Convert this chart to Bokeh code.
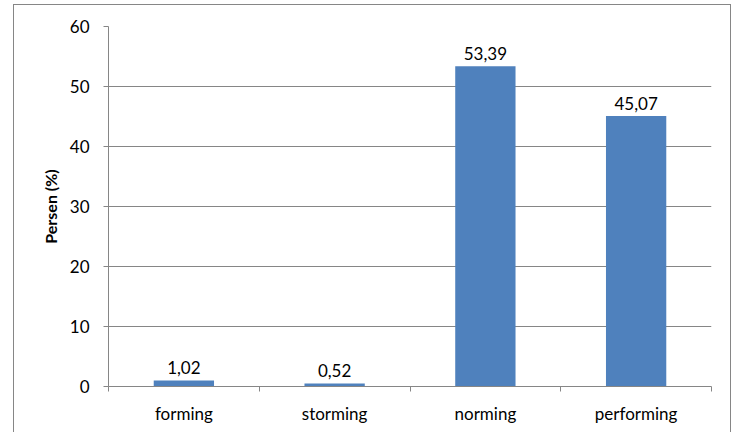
from bokeh.plotting import figure
from bokeh.models import ColumnDataSource, FixedTicker, Range1d
from bokeh.core.properties import value
from bokeh.embed import file_html
from bokeh.resources import INLINE

categories = ["forming", "storming", "norming", "performing"]
values = [1.02, 0.52, 53.39, 45.07]
y_ticks = [0, 10, 20, 30, 40, 50, 60]

FONT = "Lato"
GRAY = "#868686"
BLUE = "#4F81BD"

xs = [i + 0.5 for i in range(len(categories))]
labels = [f"{v:.2f}".replace(".", ",") for v in values]
src = ColumnDataSource(dict(x=xs, top=values, label=labels))

p = figure(
    width=718, height=430,
    frame_width=603, frame_height=360,
    min_border_left=94, min_border_right=19, min_border_top=21, min_border_bottom=49,
    x_range=Range1d(0, len(categories)), y_range=Range1d(0, 60),
    output_backend="svg", toolbar_location=None, tools="",
)
p.styles = {"margin-left": "13px", "margin-top": "4px", "border": f"1px solid {GRAY}"}
p.outline_line_color = None
p.background_fill_color = "white"
p.border_fill_color = "white"

p.vbar(x="x", top="top", width=0.4, source=src, fill_color=BLUE, line_color=None)
p.text(x="x", y="top", text="label", source=src, text_align="center",
       text_baseline="alphabetic", y_offset=-13, text_font=value(FONT),
       text_font_size="17px", text_color="black")

# y axis
p.yaxis.ticker = FixedTicker(ticks=y_ticks)
p.yaxis.axis_line_color = GRAY
p.yaxis.major_tick_line_color = GRAY
p.yaxis.major_tick_in = 0
p.yaxis.major_tick_out = 5
p.yaxis.minor_tick_line_color = None
p.yaxis.major_label_text_font = FONT
p.yaxis.major_label_text_font_size = "17px"
p.yaxis.major_label_text_color = "black"
p.yaxis.major_label_standoff = 14
p.yaxis.axis_label = "Persen (%)"
p.yaxis.axis_label_text_font = FONT
p.yaxis.axis_label_text_font_style = "bold"
p.yaxis.axis_label_text_font_size = "16px"
p.yaxis.axis_label_text_color = "black"
p.yaxis.axis_label_standoff = 7

# x axis: labels at centers, tick marks at category boundaries
p.xaxis.ticker = FixedTicker(ticks=xs, minor_ticks=list(range(len(categories) + 1)))
p.xaxis.major_label_overrides = {x: c for x, c in zip(xs, categories)}
p.xaxis.axis_line_color = GRAY
p.xaxis.major_tick_line_color = None
p.xaxis.minor_tick_line_color = GRAY
p.xaxis.minor_tick_in = 0
p.xaxis.minor_tick_out = 5
p.xaxis.major_label_text_font = FONT
p.xaxis.major_label_text_font_size = "17px"
p.xaxis.major_label_text_color = "black"
p.xaxis.major_label_standoff = 10

p.xgrid.grid_line_color = None
p.ygrid.grid_line_color = GRAY
p.ygrid.grid_line_width = 1

open("out.html", "w").write(file_html(p, INLINE))
